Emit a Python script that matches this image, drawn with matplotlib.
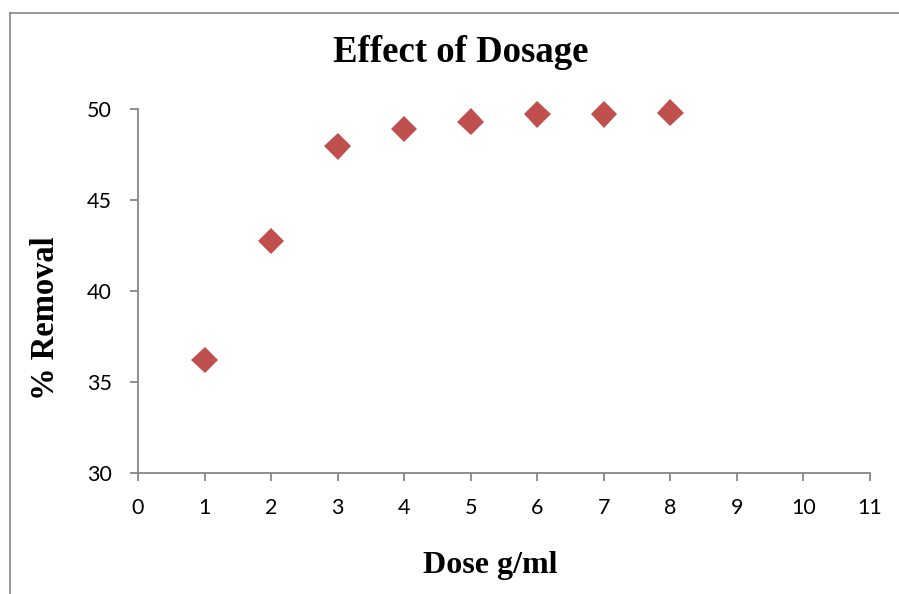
import matplotlib
matplotlib.use('Agg')
import matplotlib.pyplot as plt
import matplotlib.patheffects as pe
from matplotlib.lines import Line2D

# data
dose = [1, 2, 3, 4, 5, 6, 7, 8]
removal = [36.2, 42.75, 47.95, 48.9, 49.3, 49.7, 49.7, 49.8]
xticks = list(range(0, 12))
yticks = [30, 35, 40, 45, 50]

W, H = 899, 594
fig = plt.figure(figsize=(W / 100, H / 100), dpi=100)
ax = fig.add_axes([138 / W, 1 - 473 / H, (870 - 138) / W, (473 - 109) / H])

ax.plot(dose, removal, linestyle='none', marker='D', markersize=13.5,
        color='#C0504D', markeredgewidth=0, clip_on=False,
        path_effects=[pe.SimpleLineShadow(offset=(1.5, -2), alpha=0.25, shadow_color='k'),
                      pe.Normal()])

ax.set_xlim(0, 11)
ax.set_ylim(30, 50)
ax.set_xticks(xticks)
ax.set_yticks(yticks)

grey = '#868686'
for s in ['top', 'right']:
    ax.spines[s].set_visible(False)
for s in ['left', 'bottom']:
    ax.spines[s].set_color(grey)
    ax.spines[s].set_linewidth(1.3)
ax.tick_params(direction='out', length=6, width=1.3, color=grey,
               labelsize=15.5, labelcolor='black')
ax.tick_params(axis='y', pad=13)
ax.tick_params(axis='x', pad=12)
for lab in ax.get_xticklabels() + ax.get_yticklabels():
    lab.set_fontfamily('Lato')

serif = 'Liberation Serif'
fig.text(461 / W, 1 - 62 / H, 'Effect of Dosage', ha='center', va='baseline',
         fontsize=26.5, fontweight='bold', family=serif)
fig.text(490 / W, 1 - 573 / H, 'Dose g/ml', ha='center', va='baseline',
         fontsize=23, fontweight='bold', family=serif)
fig.text(46 / W, 1 - 318 / H, '% Removal', ha='center', va='center',
         rotation=90, fontsize=23.5, fontweight='bold', family=serif)

# outer chart frame (only left and top edges visible)
fig.add_artist(Line2D([9.5 / W, 9.5 / W], [0, 1 - 13 / H], color=grey, lw=1.2))
fig.add_artist(Line2D([9.5 / W, 1], [1 - 13 / H, 1 - 13 / H], color=grey, lw=1.2))

fig.savefig('out.png', dpi=100)
